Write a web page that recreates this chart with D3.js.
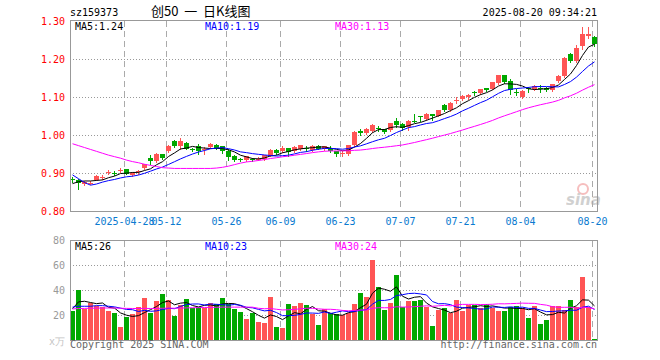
<!DOCTYPE html>
<html>
<head>
<meta charset="utf-8">
<script src="https://cdn.jsdelivr.net/npm/d3@7"></script>
<style>
  html, body { margin: 0; padding: 0; background: #fff; }
  svg text { font-family: "DejaVu Sans Mono", "Liberation Mono", monospace; font-size: 10px; }
</style>
</head>
<body>
<div id="chart"></div>
<script>
// trading days shown (2025)
const dates = [
  "04-15","04-16","04-17","04-18","04-21","04-22","04-23","04-24","04-25","04-28","04-29","04-30",
  "05-06","05-07","05-08","05-09","05-12","05-13","05-14","05-15","05-16","05-19","05-20","05-21","05-22","05-23","05-26","05-27","05-28","05-29","05-30",
  "06-03","06-04","06-05","06-06","06-09","06-10","06-11","06-12","06-13","06-16","06-17","06-18","06-19","06-20","06-23","06-24","06-25","06-26","06-27","06-30",
  "07-01","07-02","07-03","07-04","07-07","07-08","07-09","07-10","07-11","07-14","07-15","07-16","07-17","07-18","07-21","07-22","07-23","07-24","07-25","07-28","07-29","07-30","07-31",
  "08-01","08-04","08-05","08-06","08-07","08-08","08-11","08-12","08-13","08-14","08-15","08-18","08-19","08-20"
];
const tickDays = ["04-28","05-12","05-26","06-09","06-23","07-07","07-21","08-04","08-20"];
const tickLabels = ["2025-04-28","05-12","05-26","06-09","06-23","07-07","07-21","08-04","08-20"];

const open = [
  .885,.881,.870,.873,.882,.888,.901,.901,.907,.910,
  .895,.902,.912,.940,.931,.949,.957,.985,.970,.980,
  .964,.971,.961,.969,.975,.970,.957,.946,.936,.934,
  .937,.936,.937,.946,.960,.957,.966,.957,.964,.966,
  .961,.972,.962,.967,.957,.951,.950,.975,1.010,1.004,
  1.011,1.018,1.015,1.012,1.036,1.029,1.020,1.037,1.049,1.042,
  1.054,1.051,1.080,1.066,1.090,1.096,1.099,1.112,1.111,1.123,
  1.122,1.136,1.157,1.141,1.114,1.101,1.123,1.121,1.125,1.124,
  1.118,1.142,1.155,1.214,1.194,1.233,1.260,1.259
];
const high = [
  .889,.883,.879,.879,.895,.894,.908,.904,.914,.911,
  .902,.908,.925,.948,.953,.951,.973,.986,.993,.981,
  .967,.977,.969,.979,.977,.972,.964,.948,.939,.946,
  .939,.941,.948,.962,.962,.972,.967,.971,.975,.971,
  .973,.973,.972,.970,.959,.959,.975,1.011,1.016,1.019,
  1.029,1.023,1.017,1.032,1.046,1.032,1.040,1.054,1.051,1.057,
  1.056,1.067,1.082,1.087,1.101,1.105,1.109,1.116,1.122,1.125,
  1.140,1.159,1.159,1.148,1.120,1.119,1.126,1.132,1.132,1.126,
  1.135,1.158,1.205,1.216,1.238,1.283,1.283,1.260
];
const low = [
  .877,.859,.868,.870,.881,.885,.897,.895,.903,.897,
  .892,.898,.910,.925,.928,.938,.955,.968,.962,.962,
  .958,.950,.951,.966,.964,.952,.933,.932,.931,.932,
  .932,.933,.935,.944,.950,.955,.946,.955,.961,.958,
  .959,.962,.960,.954,.944,.944,.948,.972,1.000,1.002,
  1.009,1.010,1.004,1.010,1.020,1.012,1.012,1.034,1.037,1.040,
  1.040,1.049,1.064,1.064,1.083,1.092,1.096,1.105,1.109,1.116,
  1.120,1.133,1.138,1.108,1.104,1.097,1.113,1.119,1.113,1.116,
  1.116,1.139,1.153,1.193,1.193,1.225,1.255,1.233
];
const close = [
  .883,.874,.877,.875,.893,.890,.903,.898,.909,.898,
  .899,.904,.923,.931,.951,.940,.972,.970,.983,.964,
  .961,.957,.963,.977,.966,.957,.942,.935,.934,.944,
  .935,.938,.947,.961,.953,.967,.955,.969,.973,.964,
  .972,.964,.970,.957,.949,.953,.974,1.008,1.004,1.017,
  1.027,1.015,1.009,1.031,1.027,1.019,1.037,1.035,1.047,1.055,
  1.049,1.066,1.066,1.085,1.092,1.103,1.106,1.110,1.120,1.118,
  1.139,1.157,1.140,1.118,1.112,1.117,1.121,1.130,1.123,1.118,
  1.133,1.154,1.203,1.195,1.229,1.266,1.265,1.239
];
// volume, 万手
const volume = [
  23.4,40.4,24.7,29.5,27.4,26.1,22.9,21.8,10.1,18.4,
  21.0,26.1,34.0,21.8,30.9,37.0,32.4,18.9,28.2,33.2,
  25.3,26.6,25.5,29.8,28.5,34.0,28.5,24.5,22.1,16.5,
  21.5,14.1,13.3,34.8,10.1,9.3,28.5,26.9,29.8,27.7,
  21.0,11.7,25.0,21.8,20.7,20.0,22.0,29.0,37.7,34.5,
  64.0,42.4,24.4,29.8,52.0,26.5,31.3,31.5,32.2,26.3,
  11.4,24.4,25.5,21.6,32.2,23.5,27.7,27.8,26.0,29.0,
  26.0,23.2,23.4,26.3,27.4,26.0,18.0,27.4,13.0,16.3,
  26.9,27.4,24.2,32.2,26.3,50.5,26.3,1.0
];

// MA values before a full window exists
const ma5Lead = [0.872, 0.877, 0.879, 0.879];
const ma10Lead = [0.895, 0.885, 0.875, 0.868, 0.871, 0.876, 0.880, 0.883, 0.887];
const ma30Lead = [0.977, 0.972, 0.967, 0.962, 0.957, 0.952, 0.947, 0.943, 0.939, 0.934,
  0.930, 0.927, 0.923, 0.920, 0.917, 0.914, 0.913, 0.912, 0.912, 0.912,
  0.912, 0.912, 0.912, 0.912, 0.913, 0.915, 0.918, 0.922, 0.926];
const vma5Lead = [25.0, 30.5, 31.0, 30.0];
const vma10Lead = [26.3, 27.0, 27.0, 27.0, 27.5, 27.5, 27.0, 26.5, 25.5];
const vma30Lead = [24.8, 25.2, 25.3, 25.4, 25.5, 25.6, 25.6, 25.6, 25.4, 25.3,
  25.2, 25.2, 25.3, 25.2, 25.3, 25.4, 25.5, 25.4, 25.5, 25.7,
  25.8, 25.9, 26.0, 26.1, 26.2, 26.3, 26.3, 26.3, 26.3];

function movingAvg(values, n, lead) {
    return values.map((v, i) => i < n - 1 ? lead[i] : d3.mean(values.slice(i - n + 1, i + 1)));
}

const upColor = "#ff5555", downColor = "#00a800";
const maColors = ["#000000", "#0000ff", "#ff00ff"];

const W = 660, H = 360;
const left = 70, right = 598;
const pTop = 21, pBottom = 211;
const vTop = 240, vBottom = 340;

const svg = d3.select("#chart").append("svg")
    .attr("width", W).attr("height", H);

// x: one 6px slot per trading day
const x = d3.scaleBand()
    .domain(d3.range(dates.length))
    .range([left, right])
    .paddingInner(1 / 6)
    .paddingOuter(0)
    .align(0)
    .round(true);
const bw = x.bandwidth();

const y = d3.scaleLinear().domain([0.8, 1.3]).range([pBottom, pTop]);
const yv = d3.scaleLinear().domain([0, 80]).range([vBottom, vTop]);

// header
svg.append("text").attr("x", 70).attr("y", 16).text("sz159373");
svg.append("text").attr("x", 151).attr("y", 16)
    .style("font-family", "'Noto Sans CJK SC', sans-serif").style("font-size", "13px")
    .style("white-space", "pre")
    .text("创50  一  日K线图");
svg.append("text").attr("x", 597).attr("y", 16).attr("text-anchor", "end")
    .text("2025-08-20 09:34:21");

// gridlines
const grid = svg.append("g");
[1.2, 1.1, 1.0, 0.9].forEach(v => {
    const yy = Math.round(y(v)) + 0.5;
    grid.append("line").attr("x1", left).attr("x2", right).attr("y1", yy).attr("y2", yy)
        .attr("stroke", "#999").attr("stroke-dasharray", "1,2");
});
[20, 40, 60].forEach(v => {
    const yy = Math.round(yv(v)) + 0.5;
    grid.append("line").attr("x1", left).attr("x2", right).attr("y1", yy).attr("y2", yy)
        .attr("stroke", "#999").attr("stroke-dasharray", "1,2");
});
tickDays.forEach((d, i) => {
    const k = dates.indexOf(d);
    const xx = x(k) + 0.5;
    grid.append("line").attr("x1", xx).attr("x2", xx).attr("y1", pTop).attr("y2", pBottom)
        .attr("stroke", "#aaa").attr("stroke-dasharray", "6,4");
    grid.append("line").attr("x1", xx).attr("x2", xx).attr("y1", vTop + 1).attr("y2", vBottom)
        .attr("stroke", "#aaa").attr("stroke-dasharray", "6,4");
    svg.append("text").attr("x", xx).attr("y", 225).attr("text-anchor", "middle")
        .attr("fill", "#0a7ad0").text(tickLabels[i]);
});

// y labels
[1.3, 1.2, 1.1, 1.0, 0.9, 0.8].forEach(v => {
    svg.append("text").attr("x", 65).attr("y", y(v) + 4).attr("text-anchor", "end")
        .attr("fill", "#ff0000").text(v.toFixed(2));
});
[80, 60, 40, 20].forEach(v => {
    svg.append("text").attr("x", 65).attr("y", yv(v) + 4).attr("text-anchor", "end")
        .attr("fill", "#999").text(v);
});
svg.append("text").attr("x", 65).attr("y", 345).attr("text-anchor", "end")
    .attr("fill", "#c4c4c4").text("x万");

// watermark
const wm = svg.append("g").attr("opacity", 0.55);
wm.append("circle").attr("cx", 583).attr("cy", 189).attr("r", 5)
    .attr("fill", "none").attr("stroke", "#f08a8a").attr("stroke-width", 2);
wm.append("text").attr("x", 566).attr("y", 205)
    .style("font-family", "'DejaVu Sans', sans-serif").style("font-size", "15px")
    .style("font-weight", "bold").style("font-style", "italic")
    .attr("fill", "#aaa").text("sina");

// candles
const candles = svg.append("g");
dates.forEach((d, i) => {
    const up = close[i] >= open[i];
    const col = up ? upColor : downColor;
    const cx = x(i) + Math.floor(bw / 2) + 0.5;
    candles.append("line")
        .attr("x1", cx).attr("x2", cx)
        .attr("y1", Math.round(y(high[i]))).attr("y2", Math.round(y(low[i])) + 1)
        .attr("stroke", col);
    const yTopB = Math.round(y(Math.max(open[i], close[i])));
    const yBotB = Math.round(y(Math.min(open[i], close[i])));
    candles.append("rect")
        .attr("x", x(i)).attr("y", yTopB)
        .attr("width", bw).attr("height", Math.max(1, yBotB - yTopB))
        .attr("fill", col);
});

// volume bars
svg.append("g").selectAll("rect")
    .data(volume)
    .enter()
    .append("rect")
    .attr("x", (d, i) => x(i))
    .attr("y", d => Math.round(yv(d)))
    .attr("width", bw)
    .attr("height", d => vBottom - Math.round(yv(d)))
    .attr("fill", (d, i) => close[i] >= open[i] ? upColor : downColor);

// moving averages
const priceMAs = [movingAvg(close, 5, ma5Lead), movingAvg(close, 10, ma10Lead), movingAvg(close, 30, ma30Lead)];
const volMAs = [movingAvg(volume, 5, vma5Lead), movingAvg(volume, 10, vma10Lead), movingAvg(volume, 30, vma30Lead)];

const priceLine = d3.line().x((d, i) => x(i) + bw / 2).y(d => y(d));
const volLine = d3.line().x((d, i) => x(i) + bw / 2).y(d => yv(d));

priceMAs.forEach((arr, j) => {
    svg.append("path").datum(arr)
        .attr("fill", "none").attr("stroke", maColors[j]).attr("stroke-width", 1)
        .attr("d", priceLine);
});
volMAs.forEach((arr, j) => {
    svg.append("path").datum(arr)
        .attr("fill", "none").attr("stroke", maColors[j]).attr("stroke-width", 1)
        .attr("d", volLine);
});

// frames
svg.append("rect").attr("x", 70.5).attr("y", 20.5).attr("width", 527).attr("height", 191)
    .attr("fill", "none").attr("stroke", "#999");
svg.append("rect").attr("x", 70.5).attr("y", 240.5).attr("width", 527).attr("height", 100)
    .attr("fill", "none").attr("stroke", "#999");

// MA labels
const maLabelX = [75, 205, 335];
["MA5:1.24", "MA10:1.19", "MA30:1.13"].forEach((t, j) => {
    svg.append("text").attr("x", maLabelX[j]).attr("y", 30).attr("fill", maColors[j]).text(t);
});
["MA5:26", "MA10:23", "MA30:24"].forEach((t, j) => {
    svg.append("text").attr("x", maLabelX[j]).attr("y", 250).attr("fill", maColors[j]).text(t);
});

// footer
svg.append("text").attr("x", 70).attr("y", 348).attr("fill", "#666").text("Copyright 2025 SINA.COM");
svg.append("text").attr("x", 597).attr("y", 348).attr("text-anchor", "end").attr("fill", "#666")
    .text("http://finance.sina.com.cn");
</script>
</body>
</html>
